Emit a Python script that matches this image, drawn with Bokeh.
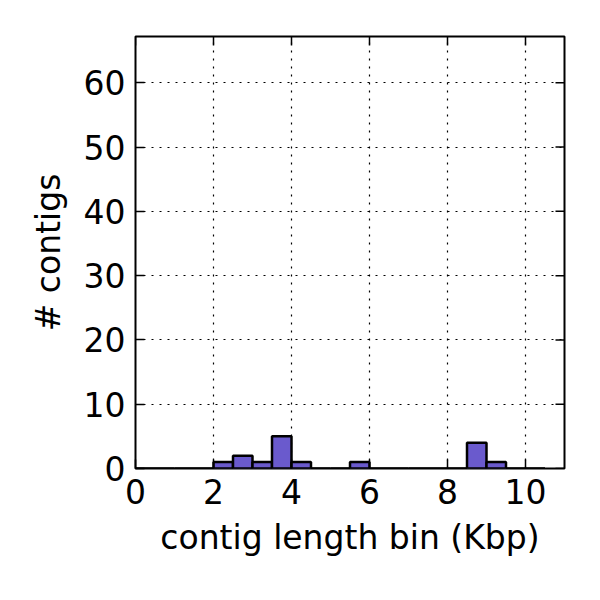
from bokeh.plotting import figure
from bokeh.models import LinearAxis, Range1d, FixedTicker
from bokeh.embed import file_html
from bokeh.resources import INLINE

# histogram data: bin left edges (Kbp), bin width, counts
bin_left = [0.0, 0.5, 1.0, 1.5, 2.0, 2.5, 3.0, 3.5, 4.0, 4.5, 5.0,
            5.5, 6.0, 6.5, 7.0, 7.5, 8.0, 8.5, 9.0, 9.5, 10.0]
bin_width = 0.5
counts = [0, 0, 0, 0, 1, 2, 1, 5, 1, 0, 0,
          1, 0, 0, 0, 0, 0, 4, 1, 0, 0]
x_ticks = [0, 2, 4, 6, 8, 10]
y_ticks = [0, 10, 20, 30, 40, 50, 60]

FONT = "DejaVu Sans"
X_MAX = 11
Y_MAX = 67.2
FRAME_W = 429
FRAME_H = 432
TICK_PX = 9

p = figure(width=592, height=592, output_backend="svg", toolbar_location=None,
           x_range=Range1d(0, X_MAX), y_range=Range1d(0, Y_MAX),
           min_border_left=135, min_border_right=28, min_border_top=36,
           min_border_bottom=124, x_axis_location=None, y_axis_location=None)

bin_right = [b + bin_width for b in bin_left]
bottoms = [0] * len(counts)
p.quad(left=bin_left, right=bin_right, bottom=bottoms, top=counts,
       fill_color="#6a5acd", line_color="black", line_width=2.5)

def style_axis(ax, ticks):
    ax.ticker = FixedTicker(ticks=ticks)
    ax.major_tick_in = TICK_PX
    ax.major_tick_out = 0
    ax.minor_tick_in = 0
    ax.minor_tick_out = 0
    ax.axis_line_color = None
    ax.major_tick_line_color = "black"
    ax.major_tick_line_width = 1.5
    ax.major_label_text_font = FONT
    ax.major_label_text_font_size = "33px"
    ax.major_label_text_color = "black"
    ax.axis_label_text_font = FONT
    ax.axis_label_text_font_size = "33px"
    ax.axis_label_text_font_style = "normal"
    ax.axis_label_text_color = "black"

xb = LinearAxis(axis_label="contig length bin (Kbp)")
style_axis(xb, x_ticks)
xb.major_label_standoff = 10
xb.axis_label_standoff = 11
p.add_layout(xb, "below")

yl = LinearAxis(axis_label="# contigs")
style_axis(yl, y_ticks)
yl.major_label_standoff = 10
yl.axis_label_standoff = 13
p.add_layout(yl, "left")

# inward ticks on the top and right edges
dy = TICK_PX * Y_MAX / FRAME_H
dx = TICK_PX * X_MAX / FRAME_W
p.segment(x0=x_ticks, x1=x_ticks, y0=[Y_MAX] * len(x_ticks),
          y1=[Y_MAX - dy] * len(x_ticks), line_color="black", line_width=1.5)
p.segment(x0=[X_MAX] * len(y_ticks), x1=[X_MAX - dx] * len(y_ticks),
          y0=y_ticks, y1=y_ticks, line_color="black", line_width=1.5)

p.xgrid.ticker = FixedTicker(ticks=x_ticks)
p.ygrid.ticker = FixedTicker(ticks=y_ticks)
for g in (p.xgrid, p.ygrid):
    g.grid_line_color = "black"
    g.grid_line_dash = "2 6"
    g.grid_line_width = 1.2

p.outline_line_color = "black"
p.outline_line_width = 2
p.outline_line_alpha = 1
p.background_fill_color = "white"
p.border_fill_color = "white"

open("out.html", "w").write(file_html(p, INLINE))
